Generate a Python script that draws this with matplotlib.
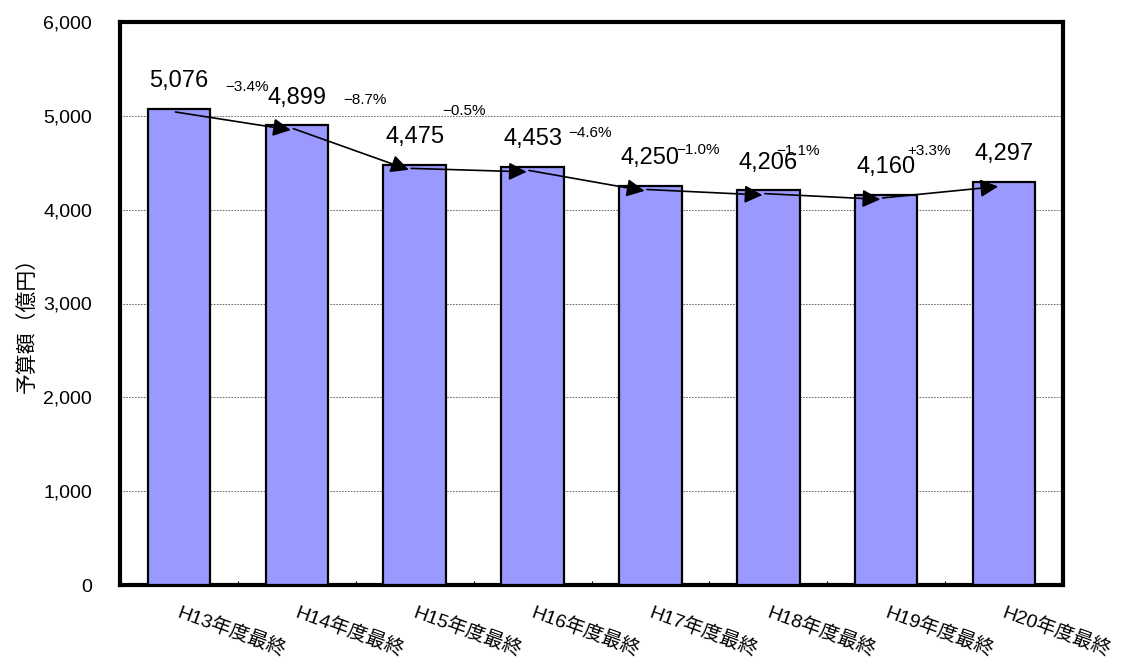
import matplotlib
matplotlib.use("Agg")
import matplotlib.pyplot as plt

plt.rcParams['font.family'] = ['Liberation Sans', 'Noto Sans CJK JP', 'DejaVu Sans']

# data
years = ["H13年度最終", "H14年度最終", "H15年度最終", "H16年度最終",
         "H17年度最終", "H18年度最終", "H19年度最終", "H20年度最終"]
budget = [5076, 4899, 4475, 4453, 4250, 4206, 4160, 4297]
change = ["−3.4%", "−8.7%", "−0.5%", "−4.6%", "−1.0%", "−1.1%", "+3.3%"]
# hand placed spots of the change labels (as in the original)
change_x = [0.58, 1.58, 2.42, 3.49, 4.40, 5.25, 6.36]
change_y = [5310, 5170, 5050, 4820, 4640, 4620, 4630]

fig = plt.figure(figsize=(11.22, 6.62), dpi=100)
ax = fig.add_axes([120/1122, 1-585/662, 943/1122, 563/662])

x = list(range(len(years)))
ax.bar(x, budget, width=0.53, color='#9999FF', edgecolor='black', linewidth=1.6, zorder=3)

ax.set_xlim(-0.5, len(years)-0.5)
ax.set_ylim(0, 6000)
ax.set_yticks(range(0, 6001, 1000))
ax.set_yticklabels([f"{v:,}" for v in range(0, 6001, 1000)], fontsize=14)
ax.yaxis.grid(True, linestyle=(0, (2, 1.5)), color='#555555', linewidth=0.6, zorder=0)
ax.tick_params(axis='y', length=0, pad=20)
ax.set_xticks([i + 0.5 for i in x[:-1]])
ax.set_xticklabels([])
ax.tick_params(axis='x', direction='in', length=3, width=0.8)
for s in ax.spines.values():
    s.set_linewidth(3)

ax.set_ylabel("予算額（億円）", fontsize=15)
ax.yaxis.set_label_coords(-0.088, 0.47)

for i, lab in enumerate(years):
    ax.text(i + 0.02, -200, lab, rotation=-20, rotation_mode='anchor',
            ha='left', va='top', fontsize=14)

for i, v in enumerate(budget):
    ax.annotate(f"{v:,}", (i, v), xytext=(0, 20), textcoords='offset points',
                ha='center', va='center', fontsize=17)

for i in range(len(budget) - 1):
    ax.annotate("", xy=(i + 0.95, budget[i+1] - 50), xytext=(i - 0.03, budget[i] - 35),
                arrowprops=dict(arrowstyle='-|>', color='black', lw=1.2,
                                mutation_scale=27, shrinkA=0, shrinkB=0), zorder=5)

for t, cx, cy in zip(change, change_x, change_y):
    ax.text(cx, cy, t, ha='center', va='center', fontsize=11)

fig.savefig("out.png", dpi=100)
